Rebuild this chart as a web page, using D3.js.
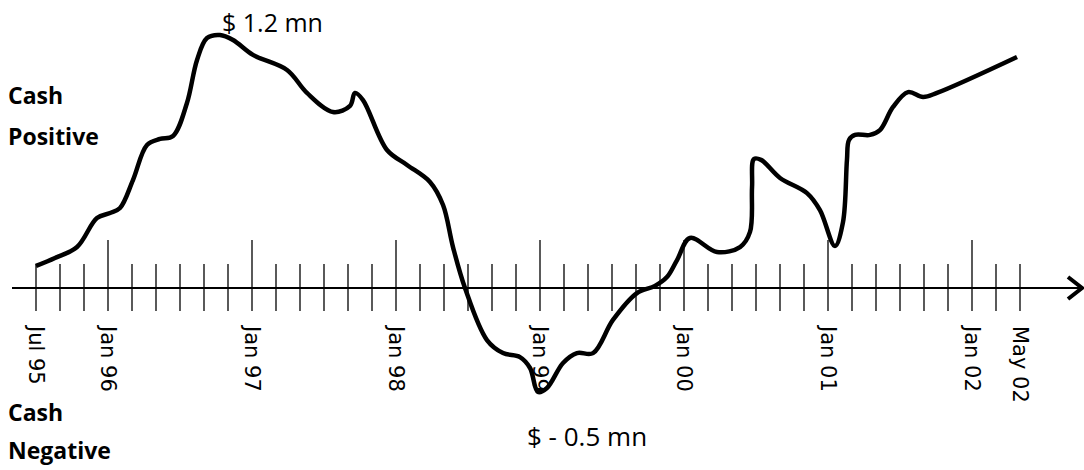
<!DOCTYPE html>
<html>
<head>
<meta charset="utf-8">
<script src="https://cdn.jsdelivr.net/npm/d3@7"></script>
<style>
  html, body { margin: 0; padding: 0; background: #fff; }
  svg { display: block; }
  .lbl { font-family: "Open Sans", sans-serif; fill: #000; }
  .tick-lbl { font-family: "DejaVu Sans", sans-serif; font-size: 21px; fill: #000; }
</style>
</head>
<body>
<div id="chart"></div>
<script>
/* Cash position over time, Jul 95 - May 02 (months counted from Jul 95). */

var months = [0, 1.58, 3.42, 5.08, 6.17, 7.0, 8.08, 9.25, 10.33, 11.42, 12.58, 13.42, 14.25, 15.33,
  16.42, 18.08, 20.92, 22.58, 24.75, 26.17, 26.58, 27.25, 29.25, 30.92, 32.83, 33.92, 34.75,
  35.75, 37.58, 38.92, 40.33, 41.17, 41.83, 42.58, 43.92, 45.08, 46.42, 48.08, 50.08, 51.58,
  52.58, 53.42, 54.5, 56.75, 58.67, 59.5, 59.67, 59.83, 60.42, 62.0, 64.25, 65.33, 66.58,
  67.25, 67.58, 67.75, 68.25, 69.5, 70.33, 71.42, 72.67, 73.92, 75.08, 81.75];
var cashMn = [0.105, 0.143, 0.195, 0.333, 0.357, 0.381, 0.514, 0.681, 0.710, 0.724, 0.881, 1.086,
  1.190, 1.205, 1.181, 1.110, 1.038, 0.929, 0.838, 0.867, 0.929, 0.895, 0.657, 0.586, 0.505,
  0.395, 0.195, 0, -0.248, -0.310, -0.329, -0.381, -0.495, -0.476, -0.357, -0.310, -0.310,
  -0.152, -0.024, 0.010, 0.052, 0.133, 0.238, 0.171, 0.195, 0.267, 0.481, 0.614, 0.610, 0.524,
  0.452, 0.371, 0.2, 0.314, 0.610, 0.705, 0.729, 0.729, 0.752, 0.862, 0.933, 0.910, 0.929, 1.1];

var tickLabels = ["Jul 95", "Jan 96", "Jan 97", "Jan 98", "Jan 99", "Jan 00", "Jan 01", "Jan 02", "May 02"];
var tickLabelMonths = [0, 6, 18, 30, 42, 54, 66, 78, 82];

var width = 1084, height = 470;
var svg = d3.select("#chart").append("svg")
  .attr("width", width).attr("height", height);

var x = d3.scaleLinear().domain([0, 82]).range([36, 1020]);
var y = d3.scaleLinear().domain([-0.5, 1.2]).range([393, 36]);
var y0 = y(0);

// ticks every two months, taller on each January
var tickMonths = d3.range(0, 83, 2);
svg.append("g").selectAll("line").data(tickMonths).join("line")
  .attr("x1", function (m) { return x(m); })
  .attr("x2", function (m) { return x(m); })
  .attr("y1", function (m) { return (m - 6) % 12 === 0 ? y0 - 48 : y0 - 24; })
  .attr("y2", y0 + 23)
  .attr("stroke", "#000").attr("stroke-width", 1.3);

// axis with arrow
svg.append("line").attr("x1", 12).attr("x2", 1081).attr("y1", y0).attr("y2", y0)
  .attr("stroke", "#000").attr("stroke-width", 2);
svg.append("path")
  .attr("d", "M1068," + (y0 - 11) + "L1082," + y0 + "L1068," + (y0 + 11))
  .attr("fill", "none").attr("stroke", "#000").attr("stroke-width", 4);

svg.append("g").selectAll("text").data(tickLabels).join("text")
  .attr("class", "tick-lbl")
  .attr("transform", function (d, i) { return "translate(" + x(tickLabelMonths[i]) + ",326) rotate(90)"; })
  .attr("dy", "0.35em")
  .text(function (d) { return d; });

// cash curve
var line = d3.line()
  .x(function (d, i) { return x(months[i]); })
  .y(function (d) { return y(d); })
  .curve(d3.curveCatmullRom.alpha(0.5));

svg.append("path").datum(cashMn)
  .attr("fill", "none").attr("stroke", "#000")
  .attr("stroke-width", 4.5).attr("stroke-linejoin", "round").attr("stroke-linecap", "butt")
  .attr("d", line);

// annotations
svg.append("text").attr("class", "lbl").attr("x", 222).attr("y", 32)
  .style("font-size", "25px").text("$ 1.2 mn");
svg.append("text").attr("class", "lbl").attr("x", 527).attr("y", 446)
  .style("font-size", "26px").text("$ - 0.5 mn");

[["Cash", 104], ["Positive", 145], ["Cash", 421], ["Negative", 459]].forEach(function (t) {
  svg.append("text").attr("class", "lbl").attr("x", 8).attr("y", t[1])
    .style("font-size", "23px").style("font-weight", "bold").text(t[0]);
});
</script>
</body>
</html>
